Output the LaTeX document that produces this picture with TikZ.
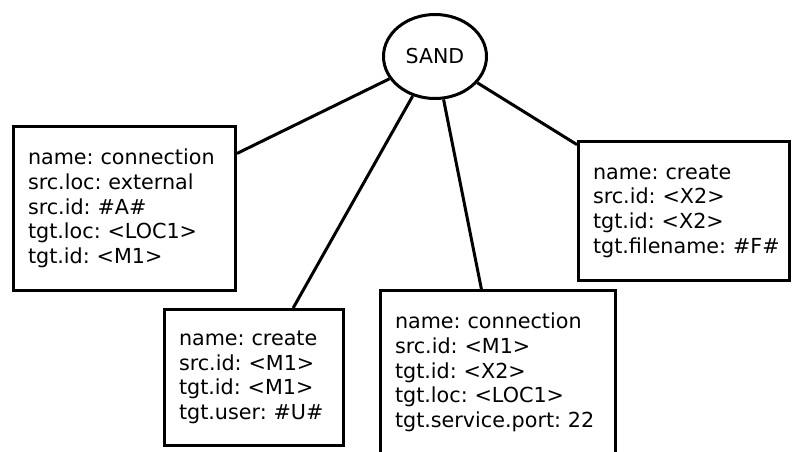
\documentclass[tikz,border=0pt]{standalone}
\usepackage{fontspec}
\setmainfont{DejaVu Sans}
\frenchspacing
\usetikzlibrary{shapes.geometric}
\tikzset{
  rootnode/.style={ellipse,draw,line width=3pt,inner sep=0pt,
              minimum width=103pt,minimum height=84pt,
              font=\fontsize{20.5pt}{24pt}\selectfont},
  attrbox/.style={rectangle,draw,line width=3pt,inner xsep=14.5pt,inner ysep=0pt,
              align=left,font=\fontsize{20.7pt}{24.7pt}\selectfont},
  link/.style={line width=3pt},
}
\begin{document}
\begin{tikzpicture}[x=1pt,y=1pt]
  \useasboundingbox (0,0) rectangle (793,451);
  \clip (0,0) rectangle (793,451);
  % root and its four event boxes
  \node[rootnode] (sand) at (435,394.5) {SAND};
  \node[attrbox,text width=193pt,minimum height=164pt] (conn1) at (124.5,242.5)
    {name: connection\\src.loc: external\\src.id: \#A\#\\tgt.loc: <LOC1>\\tgt.id: <M1>};
  \node[attrbox,text width=150pt,minimum height=136pt] (create1) at (254,73.5)
    {name: create\\src.id: <M1>\\tgt.id: <M1>\\tgt.user: \#U\#};
  \node[attrbox,text width=206pt,minimum height=164pt] (conn2) at (498,78.5)
    {name: connection\\src.id: <M1>\\tgt.id: <X2>\\tgt.loc: <LOC1>\\tgt.service.port:~22};
  \node[attrbox,text width=182pt,minimum height=139pt] (create2) at (684,240)
    {name: create\\src.id: <X2>\\tgt.id: <X2>\\tgt.filename:~\#F\#};
  \foreach \n in {conn1,create1,conn2,create2}{
    \draw[link] (sand) -- (\n);
  }
\end{tikzpicture}
\end{document}
